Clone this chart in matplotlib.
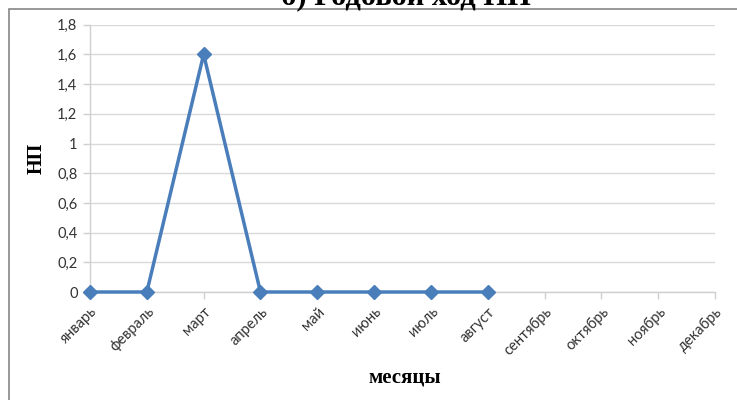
import matplotlib
matplotlib.use("Agg")
import matplotlib.pyplot as plt
from matplotlib.patches import Rectangle
from matplotlib.ticker import FuncFormatter

months = ["январь", "февраль", "март", "апрель", "май", "июнь",
          "июль", "август", "сентябрь", "октябрь", "ноябрь", "декабрь"]
np_values = [0, 0, 1.6, 0, 0, 0, 0, 0]  # observed months only
y_ticks = [0, 0.2, 0.4, 0.6, 0.8, 1.0, 1.2, 1.4, 1.6, 1.8]

W, H = 737, 400
fig = plt.figure(figsize=(W / 100, H / 100), dpi=100)
fig.patch.set_facecolor("white")

# outer chart frame (runs off the figure on the right and bottom)
fig.add_artist(Rectangle((9 / W, -0.05), 1.2, 1 - 9 / H + 0.05,
                         transform=fig.transFigure, fill=False,
                         edgecolor="#868686", linewidth=1.2))

ax = fig.add_axes([90 / W, 1 - 292 / H, (715 - 90) / W, (292 - 24.7) / H])

x = list(range(len(np_values)))
ax.plot(x, np_values, color="#4a7ebb", linewidth=2.5, marker="D",
        markersize=7, markerfacecolor="#4a7ebb", markeredgecolor="#4a7ebb",
        zorder=3, clip_on=False)

ax.set_xlim(0, len(months) - 1)
ax.set_ylim(0, 1.8)
ax.set_yticks(y_ticks)
ax.yaxis.set_major_formatter(FuncFormatter(
    lambda v, p: ("%g" % round(v, 1)).replace(".", ",")))
ax.set_xticks(range(len(months)))
ax.set_xticklabels(months, rotation=45, ha="right", rotation_mode="anchor")

ax.grid(axis="y", color="#d9d9d9", linewidth=1)
ax.set_axisbelow(True)
for side in ("top", "right"):
    ax.spines[side].set_visible(False)
for side in ("left", "bottom"):
    ax.spines[side].set_color("#d0d0d0")
    ax.spines[side].set_linewidth(1)

ax.tick_params(axis="y", length=5, width=1, color="#d0d0d0", pad=4,
               labelsize=10.5, labelcolor="#333333")
ax.tick_params(axis="x", length=5, width=1, color="#d0d0d0", pad=4,
               labelsize=10.5, labelcolor="#333333")
for lab in ax.get_xticklabels() + ax.get_yticklabels():
    lab.set_fontfamily("Lato")

ax.set_ylabel("НП", fontfamily="Liberation Serif", fontweight="bold",
              fontsize=14.5)
ax.yaxis.set_label_coords(-(90 - 47) / (715 - 90), 0.5)
fig.text(405 / W, 1 - 383 / H, "месяцы", fontfamily="Liberation Serif",
         fontweight="bold", fontsize=15, ha="center", va="baseline")

fig.text(406 / W, 1 - 4 / H, "б) Годовой ход НП", fontfamily="Liberation Serif",
         fontweight="bold", fontsize=22, ha="center", va="baseline")

fig.savefig("out.png", dpi=100, facecolor="white")
